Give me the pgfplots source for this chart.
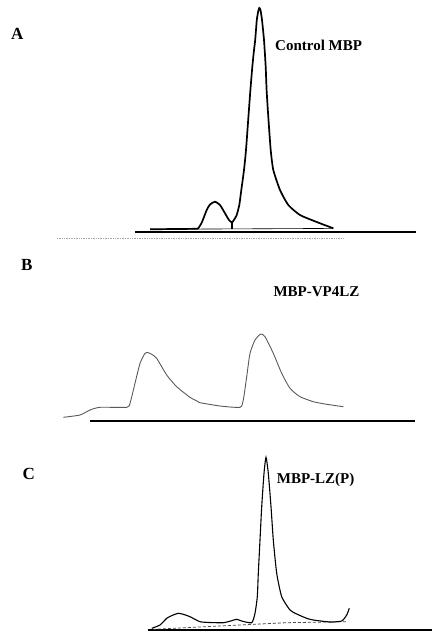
\documentclass[border=0pt]{standalone}
\usepackage{fontspec}
\setmainfont{Liberation Serif}
\usepackage{pgfplots}
\pgfplotsset{compat=1.18}

% 1 pt in the picture = 1 px of the 432x634 reference
\pgfplotsset{
  panel/.style={
    scale only axis, clip=false,
    anchor=south west,
    axis x line*=bottom, axis y line=none,
    xtick=\empty, ytick=\empty,
    axis line style={line width=1.8pt,-},
    ymin=0,
  },
}
\tikzset{
  lbl/.style={font=\fontsize{15}{18}\selectfont\bfseries, inner sep=0pt, anchor=base west},
  letter/.style={font=\fontsize{17}{20}\selectfont\bfseries, inner sep=0pt, anchor=base west},
}

\begin{document}
\begin{tikzpicture}
\path[use as bounding box] (0pt,0pt) rectangle (432pt,-634pt);

% ---- panel A ----
\begin{axis}[panel, at={(135pt,-232pt)}, width=281pt, height=232pt,
  xmin=135, xmax=416, ymax=232]
\addplot[gray!70, line width=0.7pt, densely dotted] coordinates {(57,-6.5) (343,-6.5)};
\addplot[black, line width=0.6pt] coordinates {(150,2.7) (333.3,3.6)};
\addplot[black, line width=1.2pt] coordinates {(232,9.5) (232,2.9)};
\addplot[black, line width=1.7pt, smooth, tension=0.35] coordinates {
(150,2.7) (175,3) (195,3.2) (198.3,3.8) (202,10) (206.7,22) (210,27.5) (215,30.3)
(220,27) (225,18.7) (229,12) (232,9.5) (234.5,13) (236.7,17) (239.3,27) (241.3,42)
(244,62) (246,82) (248.4,115) (250.4,142) (252.3,165) (254,182) (255.2,192)
(256.8,212) (258.3,221) (259.3,224) (260.5,222) (262,212) (264,192) (265.7,165)
(266.6,142) (268.3,115) (270.7,82) (273.3,62) (280,42) (288.3,27) (300,17)
(316.7,10) (333.3,3.7)};
\end{axis}

% ---- panel B ----
\begin{axis}[panel, at={(90pt,-421pt)}, width=325pt, height=100pt,
  xmin=90, xmax=415, ymax=100]
\addplot[black!65, line width=0.9pt, smooth, tension=0.35] coordinates {
(63.3,3.7) (80,6) (90,11) (100,13.7) (126.7,13.7) (130,17.7) (135,37.7) (140,57.7)
(145,67.7) (148.3,68.3) (152,66.5) (156.7,62.7) (166.7,46) (176.7,34.3) (190,23.7)
(198.3,19.3) (200,18.3) (220,15) (240,13.7) (243.3,21) (246.7,44.3) (250,67.7)
(255,81) (260.7,87) (265,84.3) (273.3,67.7) (281.7,47.7) (290,32.7) (300,24.3)
(313.3,19.3) (326.7,16.7) (343.3,14.3)};
\end{axis}

% ---- panel C ----
\begin{axis}[panel, at={(148pt,-630pt)}, width=284pt, height=180pt,
  xmin=148, xmax=432, ymax=180]
\addplot[black!70, line width=0.8pt, densely dashed] coordinates {
(153,0.7) (286.7,7.3) (346.7,8.3)};
\addplot[black, line width=1.1pt, smooth, tension=0.35] coordinates {
(151.7,1.7) (160,5) (166.7,11.7) (172,14.5) (178.3,16.7) (184,15.5) (190,13.3)
(200,8.3) (210,7.5) (223.3,7.3) (231.7,9.3) (236.7,10.7) (241.7,9) (251.7,7.3)
(255,16.7) (257.3,33.3) (258.3,56.7) (260,90) (261.7,123.3) (264,156.7) (266,172.7)
(268.3,156.7) (271,123.3) (273.3,90) (276.7,56.7) (281.7,33.3) (290,20) (296.7,16)
(306.7,11.7) (313.3,10) (330,8) (341.7,9) (346.7,15) (349.3,21.7)};
\end{axis}

% panel letters and titles
\node[letter] at (11pt,-39.3pt) {A};
\node[lbl] at (275pt,-50.5pt) {Control MBP};
\node[letter] at (21pt,-270pt) {B};
\node[lbl] at (273.3pt,-296.7pt) {MBP-VP4LZ};
\node[letter] at (22.5pt,-479.3pt) {C};
\node[lbl] at (276.7pt,-483pt) {MBP-LZ(P)};
\end{tikzpicture}
\end{document}
